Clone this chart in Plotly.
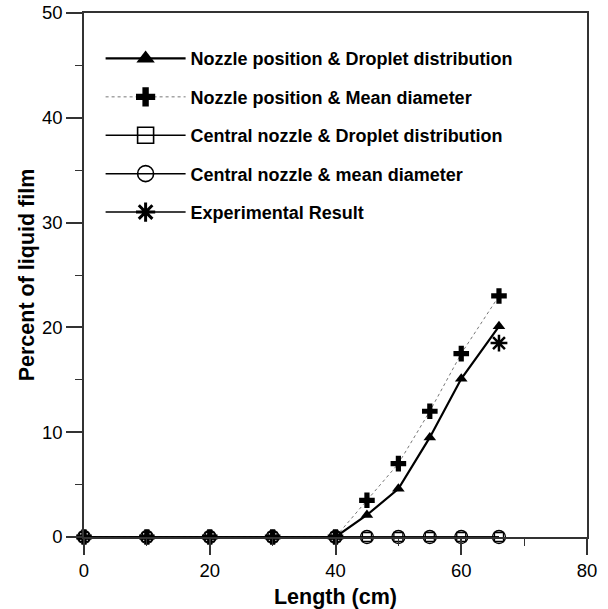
import plotly.graph_objects as go

length_x = [0, 10, 20, 30, 40, 45, 50, 55, 60, 66]
nozzle_droplet = [0, 0, 0, 0, 0, 2.1, 4.6, 9.5, 15.1, 20.1]
nozzle_mean = [0, 0, 0, 0, 0, 3.5, 7.0, 12.0, 17.5, 23.0]
central_droplet = [0, 0, 0, 0, 0, 0, 0, 0, 0, 0]
central_mean = [0, 0, 0, 0, 0, 0, 0, 0, 0, 0]
exp_x = [66]
exp_y = [18.5]

names = [
    "Nozzle position & Droplet distribution",
    "Nozzle position & Mean diameter",
    "Central nozzle & Droplet distribution",
    "Central nozzle & mean diameter",
    "Experimental Result",
]

fig = go.Figure()

styles = [
    (length_x, nozzle_droplet, dict(color="black", width=2.2, dash="solid"),
     dict(symbol="triangle-up", size=11, color="black")),
    (length_x, nozzle_mean, dict(color="#777", width=1, dash="dot"),
     dict(symbol="cross", size=13, color="black")),
    (length_x, central_droplet, dict(color="black", width=1.5, dash="solid"),
     dict(symbol="square-open", size=9, color="black", line=dict(width=1.3))),
    (length_x, central_mean, dict(color="black", width=1.5, dash="solid"),
     dict(symbol="circle-open", size=13, color="black", line=dict(width=1.3))),
    (exp_x, exp_y, dict(color="black", width=1.5, dash="solid"),
     dict(symbol="asterisk-open", size=14, color="black", line=dict(width=2.5))),
]

# data traces
for i, (xs, ys, ln, mk) in enumerate(styles):
    fig.add_trace(go.Scatter(
        x=xs, y=ys, mode="lines+markers", name=names[i],
        line=ln, marker=mk, cliponaxis=False, showlegend=False,
    ))

# legend-only entries (larger symbols, as in the original legend)
for i, (xs, ys, ln, mk) in enumerate(styles):
    mk2 = dict(mk)
    mk2["size"] = 16
    if "line" in mk2:
        mk2["line"] = dict(width=1.6 if i != 4 else 3)
    fig.add_trace(go.Scatter(
        x=[None], y=[None], mode="lines+markers", name=names[i],
        line=ln, marker=mk2, legendgroup=f"g{i}", showlegend=True,
    ))

fig.update_layout(
    width=608, height=609,
    margin=dict(l=84, r=21, t=13, b=72),
    paper_bgcolor="white", plot_bgcolor="white",
    font=dict(family="Liberation Sans, Arial, sans-serif", color="black"),
    showlegend=True,
    legend=dict(
        x=0.033, y=0.948, xanchor="left", yanchor="top",
        font=dict(size=18, family="Liberation Sans, Arial, sans-serif", weight="bold"),
        bgcolor="rgba(0,0,0,0)", tracegroupgap=12, itemwidth=80,
        itemsizing="trace",
    ),
    xaxis=dict(
        range=[0, 80], tickvals=[0, 20, 40, 60, 80], showgrid=False, zeroline=False,
        showline=True, linecolor="#333", linewidth=1.5, mirror=True,
        ticks="outside", ticklen=16, tickwidth=1.5, tickcolor="#333",
        tickfont=dict(size=18.5), automargin=False,
        minor=dict(tickvals=[10, 30, 50, 70], ticks="outside", ticklen=7, tickwidth=1.2, tickcolor="#333"),
        title=dict(text="Length (cm)", font=dict(size=21.5, weight="bold"), standoff=9),
    ),
    yaxis=dict(
        range=[0, 50], tickvals=[0, 10, 20, 30, 40, 50], showgrid=False, zeroline=False,
        showline=True, linecolor="#333", linewidth=1.5, mirror=True,
        ticks="outside", ticklen=16, tickwidth=1.5, tickcolor="#333",
        tickfont=dict(size=18.5), automargin=False,
        minor=dict(tickvals=[5, 15, 25, 35, 45], ticks="outside", ticklen=7, tickwidth=1.2, tickcolor="#333"),
        title=dict(text="Percent of liquid film", font=dict(size=21.5, weight="bold"), standoff=1),
    ),
)

fig.write_html("out.html")
